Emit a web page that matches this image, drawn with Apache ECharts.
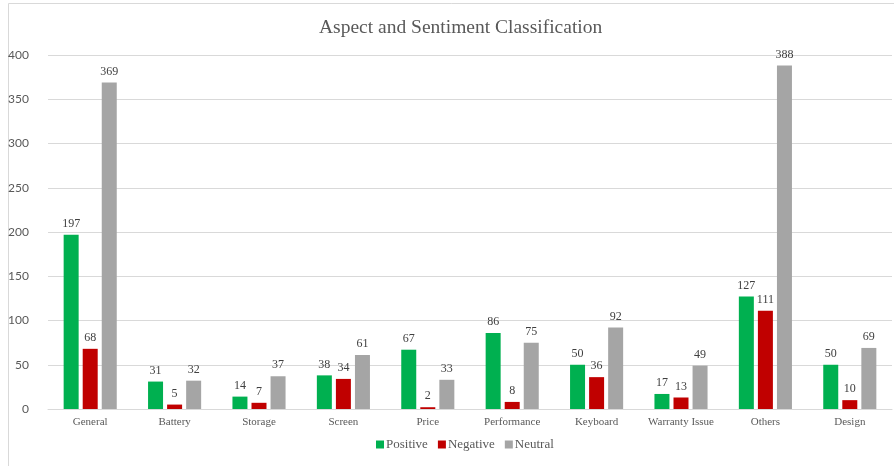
<!DOCTYPE html>
<html>
<head>
<meta charset="utf-8">
<script src="https://cdn.jsdelivr.net/npm/echarts@6/dist/echarts.min.js"></script>
<style>
  html, body { margin: 0; padding: 0; background: #fff; }
  #chart { width: 894px; height: 466px; }
</style>
</head>
<body>
<div id="chart"></div>
<script>
const categories = ['General', 'Battery', 'Storage', 'Screen', 'Price', 'Performance', 'Keyboard', 'Warranty Issue', 'Others', 'Design']
const positive = [197, 31, 14, 38, 67, 86, 50, 17, 127, 50]
const negative = [68, 5, 7, 34, 2, 8, 36, 13, 111, 10]
const neutral = [369, 32, 37, 61, 33, 75, 92, 49, 388, 69]
const yTicks = [0, 50, 100, 150, 200, 250, 300, 350, 400]

const serif = '"Liberation Serif", "DejaVu Serif", serif'

const chart = echarts.init(document.getElementById('chart'))

function barSeries(name, data, color) {
  return {
    name: name,
    type: 'bar',
    data: data,
    barWidth: 15,
    barGap: '27%',
    itemStyle: { color: color },
    label: {
      show: true,
      position: 'top',
      distance: 5,
      fontFamily: serif,
      fontSize: 12,
      color: '#404040'
    },
    animation: false
  }
}

chart.setOption({
  backgroundColor: '#fff',
  title: {
    text: 'Aspect and Sentiment Classification',
    left: 314,
    top: 13,
    textStyle: { fontFamily: serif, fontSize: 19.5, fontWeight: 'normal', color: '#595959' }
  },
  legend: {
    bottom: 10,
    left: 371,
    itemWidth: 8,
    itemHeight: 8,
    itemGap: 10,
    icon: 'rect',
    textStyle: { fontFamily: serif, fontSize: 13, color: '#595959', padding: [0, 0, 0, -3] }
  },
  grid: { left: 48, right: 2, top: 55, bottom: 57 },
  xAxis: {
    type: 'category',
    data: categories,
    axisTick: { show: false },
    axisLine: { lineStyle: { color: '#d9d9d9', width: 1 } },
    axisLabel: { fontFamily: serif, fontSize: 11, color: '#595959', margin: 8, interval: 0 }
  },
  yAxis: {
    type: 'value',
    min: yTicks[0],
    max: yTicks[yTicks.length - 1],
    interval: 50,
    axisLine: { show: false },
    axisTick: { show: false },
    splitLine: { lineStyle: { color: '#d9d9d9', width: 1 } },
    axisLabel: { fontFamily: 'Lato, "Open Sans", sans-serif', fontSize: 12, color: '#595959', margin: 19 }
  },
  graphic: [{
    type: 'rect',
    shape: { x: 8.5, y: 3.5, width: 900, height: 480 },
    style: { fill: 'none', stroke: '#d9d9d9', lineWidth: 1 },
    silent: true
  }],
  series: [
    barSeries('Positive', positive, '#00B050'),
    barSeries('Negative', negative, '#C00000'),
    barSeries('Neutral', neutral, '#A5A5A5')
  ]
})
</script>
</body>
</html>
